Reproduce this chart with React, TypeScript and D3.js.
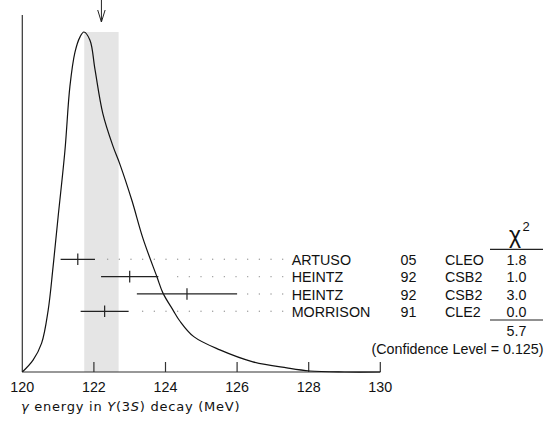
import React from "react";
import * as d3 from "d3";

// ---- data ----
const names = ["ARTUSO", "HEINTZ", "HEINTZ", "MORRISON"];
const years = ["05", "92", "92", "91"];
const experiments = ["CLEO", "CSB2", "CSB2", "CLE2"];
const values = [121.55, 123.0, 124.6, 122.3];
const errors = [0.48, 0.8, 1.4, 0.67];
const chi2 = ["1.8", "1.0", "3.0", "0.0"];
const chi2Total = "5.7";
const confidenceText = "(Confidence Level = 0.125)";
const meanValue = 122.21;
const meanError = 0.48;

const xTicks = [120, 122, 124, 126, 128, 130];

// ideogram curve (energy in MeV, relative height)
const curveE = [120.0, 120.3, 120.54, 120.72, 120.86, 121.0, 121.19, 121.33, 121.47, 121.61, 121.72, 121.89, 122.03, 122.25, 122.53, 122.73, 123.06, 123.37, 123.76, 123.93, 124.21, 124.4, 124.79, 125.52, 126.44, 127.39, 128.03, 129.0, 130.0];
const curveH = [0.0, 0.035, 0.085, 0.18, 0.31, 0.456, 0.65, 0.84, 0.94, 0.985, 1.0, 0.976, 0.89, 0.76, 0.665, 0.61, 0.505, 0.393, 0.28, 0.232, 0.182, 0.15, 0.104, 0.065, 0.03, 0.012, 0.003, 0.0, 0.0];

const W = 547;
const H = 431;

export default function App() {
  const x = d3.scaleLinear().domain([120, 130]).range([22.3, 380.3]);
  const y = d3.scaleLinear().domain([0, 1]).range([372, 32]);
  const rowY = d3.scaleLinear().domain([0, names.length - 1]).range([259.3, 311.3]);

  const line = d3
    .line<number>()
    .x((_, i) => x(curveE[i]))
    .y((d) => Math.min(y(0), y(d)))
    .curve(d3.curveCatmullRom.alpha(0.5));

  const font = "'Liberation Sans', Arial, Helvetica, sans-serif";
  const fs = 14.3;
  const nameX = 291.7;
  const yearX = 400.5;
  const expX = 445;
  const chiX = 516.5;
  const dotStep = 11.67;
  const dotRight = nameX - 9;

  const axisY = y(0);
  const axisTop = y(1.05);

  return (
    <svg
      width={W}
      height={H}
      style={{ position: "absolute", left: 0, top: 0, background: "#fff" }}
      fontFamily={font}
    >
      {/* shaded band: mean ± error */}
      <rect
        x={x(meanValue - meanError)}
        y={y(1)}
        width={x(meanValue + meanError) - x(meanValue - meanError)}
        height={axisY - y(1)}
        fill="#e5e5e5"
      />
      {/* arrow at mean */}
      <g stroke="#222" strokeWidth={1} fill="none">
        <line x1={x(meanValue)} x2={x(meanValue)} y1={0} y2={22} />
        <polyline
          points={`${x(meanValue) - 3.7},10 ${x(meanValue)},22 ${x(meanValue) + 3.7},10`}
        />
      </g>
      {/* axes */}
      <g stroke="#333" strokeWidth={1.2}>
        <line x1={x(120)} x2={x(120)} y1={axisTop} y2={axisY} />
        <line x1={x(120)} x2={x(130)} y1={axisY} y2={axisY} />
        {xTicks.slice(1).map((t) => (
          <line key={t} x1={x(t)} x2={x(t)} y1={axisY} y2={axisY - 10} />
        ))}
      </g>
      {xTicks.map((t) => (
        <text key={t} x={x(t)} y={392.3} fontSize={fs} textAnchor="middle" fill="#111">
          {t}
        </text>
      ))}
      {/* curve */}
      <path d={line(curveH) || ""} fill="none" stroke="#111" strokeWidth={1.2} />
      {/* measurements */}
      {values.map((v, i) => {
        const cy = rowY(i);
        const lo = x(v - errors[i]);
        const hi = x(v + errors[i]);
        const dots: number[] = [];
        for (let dx = dotRight; dx > hi + 8; dx -= dotStep) dots.push(dx);
        return (
          <g key={i}>
            <line x1={lo} x2={hi} y1={cy} y2={cy} stroke="#222" strokeWidth={1.2} />
            <line x1={x(v)} x2={x(v)} y1={cy - 5.8} y2={cy + 5.8} stroke="#222" strokeWidth={1.2} />
            {dots.map((dx) => (
              <circle key={dx} cx={dx} cy={cy} r={0.7} fill="#999" />
            ))}
            <text x={nameX} y={cy + 5.7} fontSize={fs} fill="#111">
              {names[i]}
            </text>
            <text x={yearX} y={cy + 5.7} fontSize={fs} fill="#111">
              {years[i]}
            </text>
            <text x={expX} y={cy + 5.7} fontSize={fs} fill="#111">
              {experiments[i]}
            </text>
            <text x={chiX} y={cy + 5.7} fontSize={fs} textAnchor="middle" fill="#111">
              {chi2[i]}
            </text>
          </g>
        );
      })}
      {/* chi2 header */}
      <text x={515} y={243} fontSize={23} textAnchor="middle" fill="#111">
        χ
      </text>
      <text x={526} y={231} fontSize={13} textAnchor="middle" fill="#111">
        2
      </text>
      <line x1={490} x2={543} y1={249.3} y2={249.3} stroke="#222" strokeWidth={1.2} />
      <line x1={490} x2={543} y1={320} y2={320} stroke="#222" strokeWidth={1.2} />
      <text x={chiX} y={336} fontSize={fs} textAnchor="middle" fill="#111">
        {chi2Total}
      </text>
      <text x={543.5} y={353.5} fontSize={fs} textAnchor="end" fill="#111">
        {confidenceText}
      </text>
      {/* x axis title */}
      <text
        x={21}
        y={411}
        fontSize={13}
        fontFamily="'DejaVu Sans', sans-serif"
        letterSpacing={0.75}
        fill="#111"
      >
        <tspan fontStyle="italic">γ</tspan>
        <tspan> energy in </tspan>
        <tspan fontStyle="italic">Υ</tspan>
        <tspan>(3</tspan>
        <tspan fontStyle="italic">S</tspan>
        <tspan>) decay (MeV)</tspan>
      </text>
    </svg>
  );
}
